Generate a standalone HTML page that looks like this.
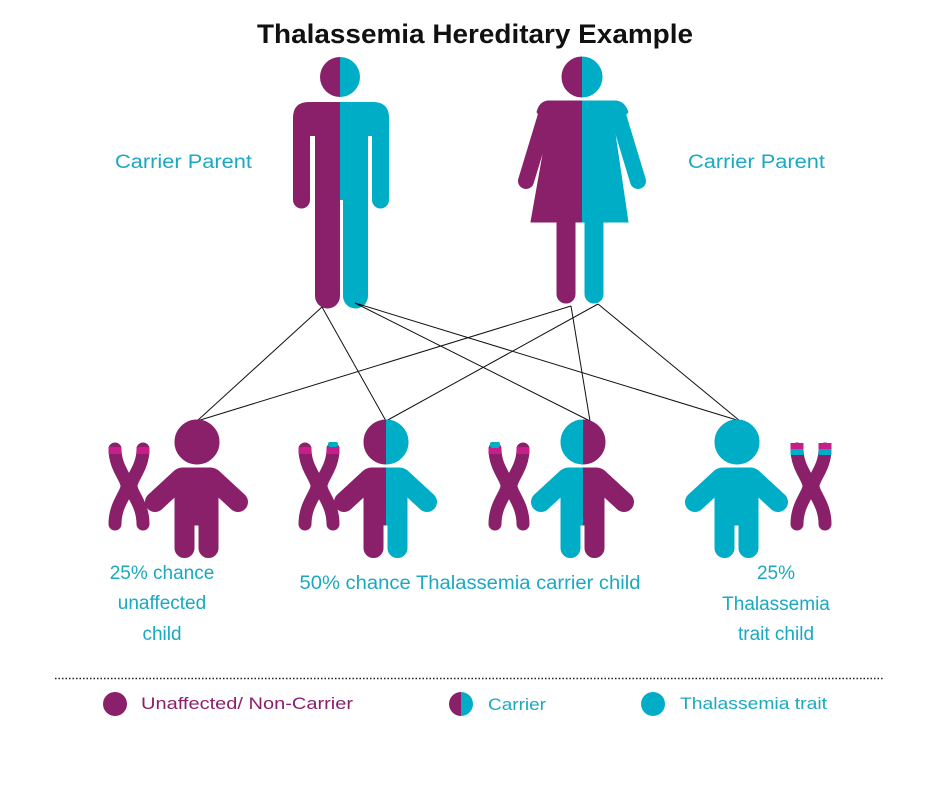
<!DOCTYPE html>
<html><head><meta charset="utf-8"><style>
html,body{margin:0;padding:0;background:#fff;}
svg{display:block;}
text{font-family:"Liberation Sans",sans-serif;}
</style></head><body>
<svg width="940" height="788" viewBox="0 0 940 788" xmlns="http://www.w3.org/2000/svg">
<defs>
  <clipPath id="L"><rect x="-200" y="-200" width="200" height="600"/></clipPath>
  <clipPath id="R"><rect x="0" y="-200" width="200" height="600"/></clipPath>
  <g id="kid">
    <circle cx="0" cy="0" r="22"/>
    <path d="M-22,34 Q-22,26 -14,26 L13,26 Q21,26 21,34 L21,83 L-22,83 Z"/>
    <line x1="-16" y1="36" x2="-42" y2="60" stroke-width="20" stroke-linecap="round"/>
    <line x1="15" y1="36" x2="41" y2="60" stroke-width="20" stroke-linecap="round"/>
    <path d="M-22,80 L-3,80 L-3,106 A9.5,9.5 0 0 1 -22,106 Z"/>
    <path d="M2,80 L21,80 L21,106 A9.5,9.5 0 0 1 2,106 Z"/>
  </g>
  <g id="chrom">
    <path d="M8,9 C8,28 20,38 20,46 C20,54 8,64 8,84" fill="none" stroke="#8a1f6a" stroke-width="13" stroke-linecap="round"/>
    <path d="M36,9 C36,28 24,38 24,46 C24,54 36,64 36,84" fill="none" stroke="#8a1f6a" stroke-width="13" stroke-linecap="round"/>
  </g>
  <g id="man">
    <circle cx="340" cy="77" r="20"/>
    <path d="M293,200 L293,118 Q293,102 309,102 L373,102 Q389,102 389,118 L389,200 A8.5,8.5 0 0 1 372,200 L372,136 L368,136 L368,296 A12.5,12.5 0 0 1 343,296 L343,200 L340,200 L340,296 A12.5,12.5 0 0 1 315,296 L315,136 L310,136 L310,200 A8.5,8.5 0 0 1 293,200 Z"/>
  </g>
  <g id="woman">
    <circle cx="582" cy="77" r="20"/>
    <path d="M549,101 L615,101 Q624,101 628,112 L613,129 L549,129 L537,112 Q540,101 549,101 Z"/>
    <line x1="546" y1="115" x2="526" y2="181" stroke-width="16" stroke-linecap="round"/>
    <line x1="618" y1="115" x2="638" y2="181" stroke-width="16" stroke-linecap="round"/>
    <path d="M549,120 L613,120 L628,222 L531,222 Z"/>
    <path d="M557,215 L575,215 L575,294 A9,9 0 0 1 557,294 Z"/>
    <path d="M585,215 L603,215 L603,294 A9,9 0 0 1 585,294 Z"/>
  </g>
</defs>

<text x="475" y="43" text-anchor="middle" font-size="27" font-weight="bold" fill="#111" textLength="436" lengthAdjust="spacingAndGlyphs">Thalassemia Hereditary Example</text>

<clipPath id="manL"><rect x="0" y="0" width="340" height="400"/></clipPath>
<clipPath id="manR"><rect x="340" y="0" width="300" height="400"/></clipPath>
<clipPath id="womL"><rect x="0" y="0" width="582" height="400"/></clipPath>
<clipPath id="womR"><rect x="582" y="0" width="400" height="400"/></clipPath>
<g clip-path="url(#manL)"><use href="#man" fill="#8a1f6a" stroke="#8a1f6a" stroke-width="0"/></g>
<g clip-path="url(#manR)"><use href="#man" fill="#00adc6" stroke="#00adc6" stroke-width="0"/></g>
<g clip-path="url(#womL)"><use href="#woman" fill="#8a1f6a" stroke="#8a1f6a"/></g>
<g clip-path="url(#womR)"><use href="#woman" fill="#00adc6" stroke="#00adc6"/></g>

<text x="115" y="168" font-size="19" fill="#1aa9c1" textLength="137" lengthAdjust="spacingAndGlyphs">Carrier Parent</text>
<text x="688" y="168" font-size="19" fill="#1aa9c1" textLength="137" lengthAdjust="spacingAndGlyphs">Carrier Parent</text>

<g stroke="#111" stroke-width="1" fill="none">
  <line x1="322" y1="307" x2="197" y2="421"/>
  <line x1="322" y1="307" x2="386" y2="421"/>
  <line x1="355" y1="303" x2="590" y2="421"/>
  <line x1="355" y1="303" x2="740" y2="421"/>
  <line x1="571" y1="306" x2="197" y2="421"/>
  <line x1="571" y1="306" x2="590" y2="421"/>
  <line x1="598" y1="304" x2="386" y2="421"/>
  <line x1="598" y1="304" x2="740" y2="421"/>
</g>

<g transform="translate(197,442)"><use href="#kid" fill="#8a1f6a" stroke="#8a1f6a"/></g>
<g transform="translate(107,440)"><use href="#chrom"/>
  <rect x="1.5" y="7" width="13" height="7" fill="#c81e8c"/><rect x="29.5" y="7" width="13" height="7" fill="#c81e8c"/></g>

<g transform="translate(386,442)">
  <g clip-path="url(#L)"><use href="#kid" fill="#8a1f6a" stroke="#8a1f6a"/></g>
  <g clip-path="url(#R)"><use href="#kid" fill="#00adc6" stroke="#00adc6"/></g>
</g>
<g transform="translate(297,440)"><use href="#chrom"/>
  <rect x="1.5" y="7" width="13" height="7" fill="#c81e8c"/>
  <rect x="29.5" y="7" width="13" height="7" fill="#c81e8c"/><rect x="31" y="2" width="10" height="5" rx="2" fill="#00adc6"/></g>

<g transform="translate(583,442)">
  <g clip-path="url(#L)"><use href="#kid" fill="#00adc6" stroke="#00adc6"/></g>
  <g clip-path="url(#R)"><use href="#kid" fill="#8a1f6a" stroke="#8a1f6a"/></g>
</g>
<g transform="translate(487,440)"><use href="#chrom"/>
  <rect x="1.5" y="8" width="13" height="6" fill="#c81e8c"/><rect x="3" y="2" width="10" height="6" rx="2" fill="#00adc6"/>
  <rect x="29.5" y="7" width="13" height="7" fill="#c81e8c"/></g>

<g transform="translate(737,442)"><use href="#kid" fill="#00adc6" stroke="#00adc6"/></g>
<g transform="translate(789,440)"><use href="#chrom"/>
  <rect x="1.5" y="3" width="13" height="6" fill="#c81e8c"/><rect x="1.5" y="9" width="13" height="6" fill="#00adc6"/>
  <rect x="29.5" y="3" width="13" height="6" fill="#c81e8c"/><rect x="29.5" y="9" width="13" height="6" fill="#00adc6"/></g>

<g font-size="19" fill="#1aa9c1" text-anchor="middle">
  <text x="162" y="579">25% chance</text>
  <text x="162" y="609">unaffected</text>
  <text x="162" y="640">child</text>
  <text x="470" y="589" textLength="341" lengthAdjust="spacingAndGlyphs">50% chance Thalassemia carrier child</text>
  <text x="776" y="579">25%</text>
  <text x="776" y="610">Thalassemia</text>
  <text x="776" y="640">trait child</text>
</g>

<line x1="55" y1="678.5" x2="884" y2="678.5" stroke="#222" stroke-width="1.5" stroke-dasharray="1.5 2"/>

<circle cx="115" cy="704" r="12" fill="#8a1f6a"/>
<text x="141" y="709" font-size="17" fill="#8a1f6a" textLength="212" lengthAdjust="spacingAndGlyphs">Unaffected/ Non-Carrier</text>
<path d="M461,692 A12,12 0 0 0 461,716 Z" fill="#8a1f6a"/>
<path d="M461,692 A12,12 0 0 1 461,716 Z" fill="#00adc6"/>
<text x="488" y="710" font-size="17" fill="#1aa9c1" textLength="58" lengthAdjust="spacingAndGlyphs">Carrier</text>
<circle cx="653" cy="704" r="12" fill="#00adc6"/>
<text x="680" y="709" font-size="17" fill="#1aa9c1" textLength="147" lengthAdjust="spacingAndGlyphs">Thalassemia trait</text>
</svg>
</body></html>
